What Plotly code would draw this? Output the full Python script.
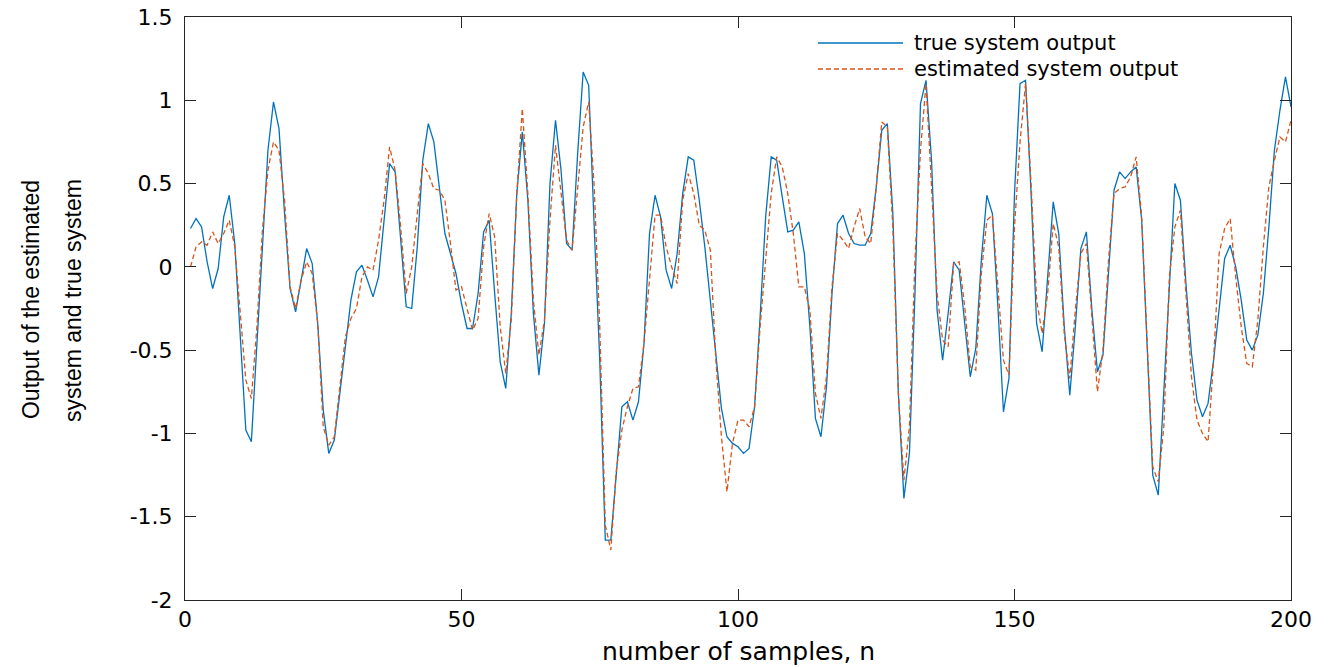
import numpy as np
import plotly.graph_objects as go

n_samples = list(range(1, 201))

true_output = [
    0.23, 0.29, 0.24, 0.03, -0.13, -0.01, 0.30, 0.43, 0.14, -0.45,
    -0.98, -1.05, -0.45, 0.15, 0.70, 0.99, 0.83, 0.32, -0.13, -0.27,
    -0.08, 0.11, 0.02, -0.34, -0.86, -1.12, -1.04, -0.76, -0.46, -0.20,
    -0.03, 0.01, -0.08, -0.18, -0.06, 0.28, 0.62, 0.57, 0.18, -0.24,
    -0.25, 0.12, 0.64, 0.86, 0.75, 0.48, 0.20, 0.08, -0.04, -0.22,
    -0.37, -0.37, -0.16, 0.21, 0.28, -0.16, -0.57, -0.73, -0.28, 0.44,
    0.81, 0.40, -0.28, -0.65, -0.34, 0.50, 0.88, 0.58, 0.14, 0.10,
    0.68, 1.17, 1.09, 0.24, -0.56, -1.64, -1.64, -1.24, -0.84, -0.81,
    -0.92, -0.81, -0.46, 0.20, 0.43, 0.30, -0.02, -0.13, 0.08, 0.44,
    0.66, 0.64, 0.40, 0.12, -0.20, -0.56, -0.85, -1.02, -1.06, -1.08,
    -1.12, -1.09, -0.84, -0.30, 0.30, 0.66, 0.64, 0.42, 0.21, 0.22,
    0.27, 0.08, -0.36, -0.91, -1.02, -0.72, -0.16, 0.26, 0.31, 0.20,
    0.14, 0.13, 0.13, 0.20, 0.48, 0.82, 0.86, 0.32, -0.76, -1.39,
    -1.12, -0.16, 0.98, 1.12, 0.64, -0.26, -0.56, -0.28, 0.03, -0.02,
    -0.36, -0.66, -0.49, 0.04, 0.43, 0.32, -0.24, -0.87, -0.67, 0.44,
    1.10, 1.12, 0.44, -0.34, -0.51, -0.06, 0.39, 0.20, -0.36, -0.77,
    -0.36, 0.11, 0.21, -0.26, -0.63, -0.53, 0.00, 0.46, 0.57, 0.53,
    0.57, 0.60, 0.28, -0.46, -1.25, -1.37, -0.76, -0.12, 0.50, 0.40,
    -0.10, -0.52, -0.80, -0.90, -0.82, -0.56, -0.26, 0.05, 0.13, 0.00,
    -0.20, -0.44, -0.50, -0.41, -0.16, 0.24, 0.70, 0.94, 1.14, 0.96,
]

estimated_output = [
    0.00, 0.12, 0.15, 0.13, 0.21, 0.14, 0.20, 0.28, 0.12, -0.30,
    -0.68, -0.79, -0.36, 0.22, 0.58, 0.75, 0.70, 0.40, -0.12, -0.25,
    -0.08, 0.03, -0.04, -0.34, -0.96, -1.07, -1.02, -0.72, -0.42, -0.31,
    -0.25, -0.06, 0.00, -0.02, 0.16, 0.40, 0.72, 0.58, 0.24, -0.16,
    0.00, 0.32, 0.62, 0.56, 0.47, 0.46, 0.40, 0.14, -0.14, -0.12,
    -0.25, -0.38, -0.31, 0.12, 0.32, 0.18, -0.36, -0.64, -0.32, 0.44,
    0.95, 0.44, -0.20, -0.53, -0.32, 0.28, 0.73, 0.44, 0.16, 0.10,
    0.48, 0.84, 0.99, 0.48, -0.36, -1.55, -1.70, -1.22, -0.98, -0.84,
    -0.73, -0.72, -0.46, -0.06, 0.31, 0.31, 0.12, 0.00, -0.10, 0.40,
    0.56, 0.44, 0.25, 0.22, 0.10, -0.56, -1.02, -1.35, -1.06, -0.92,
    -0.92, -0.96, -0.84, -0.36, 0.04, 0.44, 0.66, 0.60, 0.44, 0.20,
    -0.12, -0.12, -0.26, -0.76, -0.91, -0.66, -0.12, 0.20, 0.16, 0.11,
    0.24, 0.35, 0.18, 0.14, 0.48, 0.87, 0.84, 0.24, -0.76, -1.28,
    -0.96, 0.04, 0.70, 1.10, 0.48, -0.16, -0.44, -0.48, 0.02, 0.03,
    -0.24, -0.60, -0.62, -0.04, 0.28, 0.31, -0.12, -0.56, -0.65, 0.24,
    0.75, 1.10, 0.50, -0.20, -0.40, -0.16, 0.26, 0.12, -0.40, -0.67,
    -0.26, 0.08, 0.14, -0.32, -0.75, -0.50, 0.04, 0.44, 0.47, 0.48,
    0.54, 0.66, 0.30, -0.46, -1.20, -1.29, -0.96, -0.06, 0.24, 0.34,
    -0.16, -0.66, -0.92, -1.00, -1.05, -0.56, 0.08, 0.23, 0.29, -0.06,
    -0.36, -0.58, -0.60, -0.32, 0.12, 0.48, 0.64, 0.78, 0.75, 0.88,
]

series_names = ["true system output", "estimated system output"]
x_ticks = [0, 50, 100, 150, 200]
y_ticks = [-2, -1.5, -1, -0.5, 0, 0.5, 1, 1.5]
y_tick_text = ["-2", "-1.5", "-1", "-0.5", "0", "0.5", "1", "1.5"]

BLUE = "#0072BD"
ORANGE = "#D95319"
AXIS = "#262626"
DASH = "5px,3px"

fig = go.Figure()
fig.add_trace(go.Scatter(
    x=n_samples, y=true_output, mode="lines", name=series_names[0],
    line=dict(color=BLUE, width=1.3), showlegend=False,
))
fig.add_trace(go.Scatter(
    x=n_samples, y=estimated_output, mode="lines", name=series_names[1],
    line=dict(color=ORANGE, width=1.3, dash=DASH), showlegend=False,
))

axis_common = dict(
    showgrid=False, zeroline=False, showline=True, linecolor=AXIS, linewidth=1,
    mirror="ticks", ticks="inside", ticklen=11, tickcolor=AXIS, tickwidth=1,
    automargin=False, ticklabeloverflow="allow",
    tickfont=dict(family="DejaVu Sans", size=22, color="#000000"),
)

# Legend drawn as line samples + labels (paper coordinates)
legend_x0, legend_x1, legend_tx = 0.5723, 0.6492, 0.6582
legend_rows = [0.9554, 0.9108]
shapes = []
annotations = []
for name, color, dash, ly in zip(series_names, [BLUE, ORANGE], ["solid", DASH], legend_rows):
    shapes.append(dict(type="line", xref="paper", yref="paper",
                       x0=legend_x0, x1=legend_x1, y0=ly, y1=ly,
                       line=dict(color=color, width=1.3, dash=dash)))
    annotations.append(dict(text=name, xref="paper", yref="paper",
                            x=legend_tx, y=ly, xanchor="left", yanchor="middle",
                            showarrow=False, borderpad=0,
                            font=dict(family="DejaVu Sans", size=21, color="#000000")))

annotations += [
    dict(text="number of samples, n", xref="paper", yref="paper",
         x=0.5, y=-0.0875, xanchor="center", yanchor="middle", showarrow=False,
         borderpad=0,
         font=dict(family="DejaVu Sans", size=25, color="#000000")),
    dict(text="Output of the estimated", xref="paper", yref="paper",
         x=-0.1392, y=0.5146, xanchor="center", yanchor="middle", showarrow=False,
         textangle=-90,
         font=dict(family="Liberation Sans", size=23, color="#000000")),
    dict(text="system and true system", xref="paper", yref="paper",
         x=-0.1013, y=0.5146, xanchor="center", yanchor="middle", showarrow=False,
         textangle=-90,
         font=dict(family="Liberation Sans", size=23, color="#000000")),
]

fig.update_layout(
    template="none",
    width=1330, height=667,
    margin=dict(l=185, r=39, t=17, b=67, pad=0),
    paper_bgcolor="white", plot_bgcolor="white",
    xaxis=dict(range=[0, 200], tickvals=x_ticks, **axis_common),
    yaxis=dict(range=[-2, 1.5], tickvals=y_ticks, ticktext=y_tick_text,
               ticklabelstandoff=7, **axis_common),
    showlegend=False,
    shapes=shapes,
    annotations=annotations,
)

fig.write_html(
    "out.html",
    config={"displayModeBar": False},
    post_script="document.body.style.margin='0';document.body.style.overflow='hidden';",
)
